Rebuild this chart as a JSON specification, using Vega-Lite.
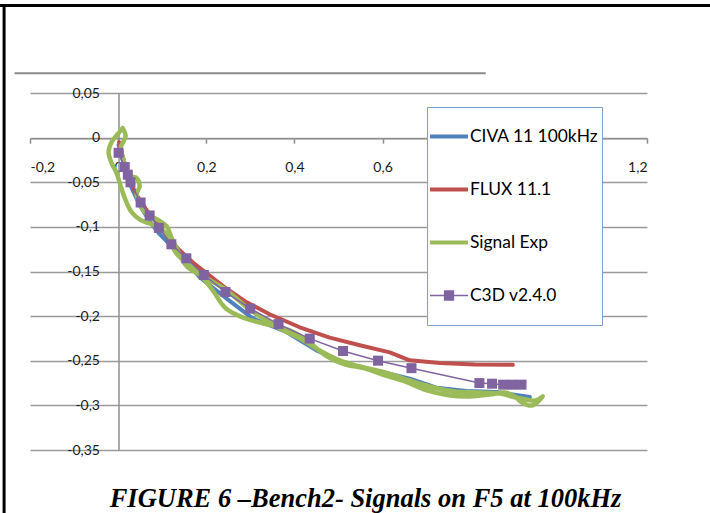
{
  "$schema": "https://vega.github.io/schema/vega-lite/v6.json",
  "width": 617,
  "height": 357,
  "autosize": "none",
  "padding": {"left": 30, "top": 93, "right": 63, "bottom": 63},
  "background": "white",
  "config": {"view": {"stroke": null}},
  "title": {
    "text": "FIGURE 6 –Bench2-  Signals on F5 at 100kHz",
    "orient": "bottom",
    "frame": "group",
    "anchor": "middle",
    "font": "Liberation Serif",
    "fontSize": 26.5,
    "fontStyle": "italic",
    "fontWeight": "bold",
    "color": "black",
    "baseline": "alphabetic",
    "offset": -8,
    "dx": 27
  },
  "datasets": {
    "curves": [
      {"series": "CIVA 11 100kHz", "i": 1, "x": 0.001, "y": -0.0084},
      {"series": "CIVA 11 100kHz", "i": 2, "x": 0.0102, "y": -0.0252},
      {"series": "CIVA 11 100kHz", "i": 3, "x": 0.0216, "y": -0.0454},
      {"series": "CIVA 11 100kHz", "i": 4, "x": 0.0329, "y": -0.0589},
      {"series": "CIVA 11 100kHz", "i": 5, "x": 0.0488, "y": -0.0757},
      {"series": "CIVA 11 100kHz", "i": 6, "x": 0.0715, "y": -0.0937},
      {"series": "CIVA 11 100kHz", "i": 7, "x": 0.0942, "y": -0.1082},
      {"series": "CIVA 11 100kHz", "i": 8, "x": 0.1169, "y": -0.1195},
      {"series": "CIVA 11 100kHz", "i": 9, "x": 0.1442, "y": -0.1329},
      {"series": "CIVA 11 100kHz", "i": 10, "x": 0.185, "y": -0.1565},
      {"series": "CIVA 11 100kHz", "i": 11, "x": 0.2463, "y": -0.1804},
      {"series": "CIVA 11 100kHz", "i": 12, "x": 0.306, "y": -0.2028},
      {"series": "CIVA 11 100kHz", "i": 13, "x": 0.3818, "y": -0.2178},
      {"series": "CIVA 11 100kHz", "i": 14, "x": 0.4499, "y": -0.2384},
      {"series": "CIVA 11 100kHz", "i": 15, "x": 0.518, "y": -0.2533},
      {"series": "CIVA 11 100kHz", "i": 16, "x": 0.6011, "y": -0.2627},
      {"series": "CIVA 11 100kHz", "i": 17, "x": 0.6617, "y": -0.2701},
      {"series": "CIVA 11 100kHz", "i": 18, "x": 0.7223, "y": -0.2802},
      {"series": "CIVA 11 100kHz", "i": 19, "x": 0.7905, "y": -0.284},
      {"series": "CIVA 11 100kHz", "i": 20, "x": 0.8585, "y": -0.2851},
      {"series": "CIVA 11 100kHz", "i": 21, "x": 0.9342, "y": -0.2907},

      {"series": "FLUX 11.1", "i": 1, "x": 0.002, "y": -0.005},
      {"series": "FLUX 11.1", "i": 2, "x": 0.0125, "y": -0.025},
      {"series": "FLUX 11.1", "i": 3, "x": 0.028, "y": -0.05},
      {"series": "FLUX 11.1", "i": 4, "x": 0.042, "y": -0.0645},
      {"series": "FLUX 11.1", "i": 5, "x": 0.0647, "y": -0.0813},
      {"series": "FLUX 11.1", "i": 6, "x": 0.0874, "y": -0.0948},
      {"series": "FLUX 11.1", "i": 7, "x": 0.1124, "y": -0.1116},
      {"series": "FLUX 11.1", "i": 8, "x": 0.1396, "y": -0.1262},
      {"series": "FLUX 11.1", "i": 9, "x": 0.169, "y": -0.1397},
      {"series": "FLUX 11.1", "i": 10, "x": 0.2009, "y": -0.152},
      {"series": "FLUX 11.1", "i": 11, "x": 0.2418, "y": -0.1677},
      {"series": "FLUX 11.1", "i": 12, "x": 0.2917, "y": -0.1845},
      {"series": "FLUX 11.1", "i": 13, "x": 0.3439, "y": -0.1979},
      {"series": "FLUX 11.1", "i": 14, "x": 0.412, "y": -0.2125},
      {"series": "FLUX 11.1", "i": 15, "x": 0.4801, "y": -0.2241},
      {"series": "FLUX 11.1", "i": 16, "x": 0.5482, "y": -0.2327},
      {"series": "FLUX 11.1", "i": 17, "x": 0.6163, "y": -0.2406},
      {"series": "FLUX 11.1", "i": 18, "x": 0.6617, "y": -0.2495},
      {"series": "FLUX 11.1", "i": 19, "x": 0.7299, "y": -0.2526},
      {"series": "FLUX 11.1", "i": 20, "x": 0.8093, "y": -0.2541},
      {"series": "FLUX 11.1", "i": 21, "x": 0.8956, "y": -0.2546},

      {"series": "Signal Exp", "i": 1, "x": 0.0102, "y": 0.0107},
      {"series": "Signal Exp", "i": 2, "x": -0.0011, "y": 0.0039},
      {"series": "Signal Exp", "i": 3, "x": -0.0148, "y": -0.005},
      {"series": "Signal Exp", "i": 4, "x": -0.0216, "y": -0.0163},
      {"series": "Signal Exp", "i": 5, "x": -0.0148, "y": -0.0286},
      {"series": "Signal Exp", "i": 6, "x": -0.0034, "y": -0.0398},
      {"series": "Signal Exp", "i": 7, "x": 0.0057, "y": -0.0544},
      {"series": "Signal Exp", "i": 8, "x": 0.017, "y": -0.0701},
      {"series": "Signal Exp", "i": 9, "x": 0.0306, "y": -0.0836},
      {"series": "Signal Exp", "i": 10, "x": 0.0511, "y": -0.0925},
      {"series": "Signal Exp", "i": 11, "x": 0.0761, "y": -0.097},
      {"series": "Signal Exp", "i": 12, "x": 0.1011, "y": -0.1038},
      {"series": "Signal Exp", "i": 13, "x": 0.1169, "y": -0.115},
      {"series": "Signal Exp", "i": 14, "x": 0.1305, "y": -0.1285},
      {"series": "Signal Exp", "i": 15, "x": 0.1532, "y": -0.1397},
      {"series": "Signal Exp", "i": 16, "x": 0.185, "y": -0.153},
      {"series": "Signal Exp", "i": 17, "x": 0.2145, "y": -0.171},
      {"series": "Signal Exp", "i": 18, "x": 0.244, "y": -0.1912},
      {"series": "Signal Exp", "i": 19, "x": 0.2872, "y": -0.2024},
      {"series": "Signal Exp", "i": 20, "x": 0.328, "y": -0.208},
      {"series": "Signal Exp", "i": 21, "x": 0.3893, "y": -0.2159},
      {"series": "Signal Exp", "i": 22, "x": 0.4279, "y": -0.2271},
      {"series": "Signal Exp", "i": 23, "x": 0.4733, "y": -0.2451},
      {"series": "Signal Exp", "i": 24, "x": 0.5142, "y": -0.2541},
      {"series": "Signal Exp", "i": 25, "x": 0.5596, "y": -0.2586},
      {"series": "Signal Exp", "i": 26, "x": 0.605, "y": -0.2664},
      {"series": "Signal Exp", "i": 27, "x": 0.6504, "y": -0.2732},
      {"series": "Signal Exp", "i": 28, "x": 0.7003, "y": -0.2833},
      {"series": "Signal Exp", "i": 29, "x": 0.7526, "y": -0.2889},
      {"series": "Signal Exp", "i": 30, "x": 0.798, "y": -0.29},
      {"series": "Signal Exp", "i": 31, "x": 0.8434, "y": -0.2878},
      {"series": "Signal Exp", "i": 32, "x": 0.8774, "y": -0.2856},
      {"series": "Signal Exp", "i": 33, "x": 0.9001, "y": -0.29},
      {"series": "Signal Exp", "i": 34, "x": 0.916, "y": -0.2967},
      {"series": "Signal Exp", "i": 35, "x": 0.9387, "y": -0.3001},
      {"series": "Signal Exp", "i": 36, "x": 0.9637, "y": -0.29},
      {"series": "Signal Exp", "i": 37, "x": 0.9478, "y": -0.2945},
      {"series": "Signal Exp", "i": 38, "x": 0.9251, "y": -0.2934},
      {"series": "Signal Exp", "i": 39, "x": 0.9024, "y": -0.2911},
      {"series": "Signal Exp", "i": 40, "x": 0.866, "y": -0.2867},
      {"series": "Signal Exp", "i": 41, "x": 0.8207, "y": -0.2855},
      {"series": "Signal Exp", "i": 42, "x": 0.7639, "y": -0.2844},
      {"series": "Signal Exp", "i": 43, "x": 0.7072, "y": -0.2788},
      {"series": "Signal Exp", "i": 44, "x": 0.6617, "y": -0.2721},
      {"series": "Signal Exp", "i": 45, "x": 0.605, "y": -0.2631},
      {"series": "Signal Exp", "i": 46, "x": 0.5482, "y": -0.2564},
      {"series": "Signal Exp", "i": 47, "x": 0.5028, "y": -0.2496},
      {"series": "Signal Exp", "i": 48, "x": 0.4574, "y": -0.2384},
      {"series": "Signal Exp", "i": 49, "x": 0.412, "y": -0.2249},
      {"series": "Signal Exp", "i": 50, "x": 0.3666, "y": -0.2137},
      {"series": "Signal Exp", "i": 51, "x": 0.328, "y": -0.2024},
      {"series": "Signal Exp", "i": 52, "x": 0.2917, "y": -0.1901},
      {"series": "Signal Exp", "i": 53, "x": 0.2463, "y": -0.171},
      {"series": "Signal Exp", "i": 54, "x": 0.2009, "y": -0.1576},
      {"series": "Signal Exp", "i": 55, "x": 0.1555, "y": -0.1441},
      {"series": "Signal Exp", "i": 56, "x": 0.1351, "y": -0.1262},
      {"series": "Signal Exp", "i": 57, "x": 0.1215, "y": -0.1127},
      {"series": "Signal Exp", "i": 58, "x": 0.1101, "y": -0.0993},
      {"series": "Signal Exp", "i": 59, "x": 0.0874, "y": -0.0914},
      {"series": "Signal Exp", "i": 60, "x": 0.0647, "y": -0.0858},
      {"series": "Signal Exp", "i": 61, "x": 0.0511, "y": -0.0768},
      {"series": "Signal Exp", "i": 62, "x": 0.042, "y": -0.0634},
      {"series": "Signal Exp", "i": 63, "x": 0.0488, "y": -0.0544},
      {"series": "Signal Exp", "i": 64, "x": 0.042, "y": -0.0454},
      {"series": "Signal Exp", "i": 65, "x": 0.0261, "y": -0.0432},
      {"series": "Signal Exp", "i": 66, "x": 0.017, "y": -0.0365},
      {"series": "Signal Exp", "i": 67, "x": 0.0125, "y": -0.0252},
      {"series": "Signal Exp", "i": 68, "x": 0.0057, "y": -0.0118},
      {"series": "Signal Exp", "i": 69, "x": 0.017, "y": 0.0017},
      {"series": "Signal Exp", "i": 70, "x": 0.0102, "y": 0.0107},

      {"series": "C3D v2.4.0", "i": 1, "x": 0.001, "y": -0.017},
      {"series": "C3D v2.4.0", "i": 2, "x": 0.015, "y": -0.033},
      {"series": "C3D v2.4.0", "i": 3, "x": 0.022, "y": -0.0415},
      {"series": "C3D v2.4.0", "i": 4, "x": 0.028, "y": -0.05},
      {"series": "C3D v2.4.0", "i": 5, "x": 0.051, "y": -0.0727},
      {"series": "C3D v2.4.0", "i": 6, "x": 0.0715, "y": -0.0872},
      {"series": "C3D v2.4.0", "i": 7, "x": 0.0924, "y": -0.1012},
      {"series": "C3D v2.4.0", "i": 8, "x": 0.1208, "y": -0.1195},
      {"series": "C3D v2.4.0", "i": 9, "x": 0.1548, "y": -0.1352},
      {"series": "C3D v2.4.0", "i": 10, "x": 0.1945, "y": -0.1539},
      {"series": "C3D v2.4.0", "i": 11, "x": 0.2434, "y": -0.173},
      {"series": "C3D v2.4.0", "i": 12, "x": 0.2997, "y": -0.1916},
      {"series": "C3D v2.4.0", "i": 13, "x": 0.3639, "y": -0.2089},
      {"series": "C3D v2.4.0", "i": 14, "x": 0.4347, "y": -0.2252},
      {"series": "C3D v2.4.0", "i": 15, "x": 0.5103, "y": -0.2391},
      {"series": "C3D v2.4.0", "i": 16, "x": 0.5898, "y": -0.2499},
      {"series": "C3D v2.4.0", "i": 17, "x": 0.6656, "y": -0.2583},
      {"series": "C3D v2.4.0", "i": 18, "x": 0.8197, "y": -0.275},
      {"series": "C3D v2.4.0", "i": 19, "x": 0.8484, "y": -0.2757},
      {"series": "C3D v2.4.0", "i": 20, "x": 0.8736, "y": -0.2768},
      {"series": "C3D v2.4.0", "i": 21, "x": 0.8944, "y": -0.2768},
      {"series": "C3D v2.4.0", "i": 22, "x": 0.9153, "y": -0.2768}
    ],
    "frame": [
      {"x": -0.2588, "x2": -0.2588, "y": 0.1481, "y2": -0.4212},
      {"x": -0.28, "x2": 1.36, "y": 0.1481, "y2": 0.1481}
    ],
    "topline": [
      {"x": -0.235, "x2": 0.834, "y": 0.072, "y2": 0.072}
    ]
  },
  "layer": [
    {
      "data": {"name": "frame"},
      "mark": {"type": "rule", "clip": false, "color": "black", "strokeWidth": 3},
      "encoding": {
        "x": {"field": "x", "type": "quantitative", "scale": {"domain": [-0.2, 1.2], "nice": false, "zero": false}},
        "x2": {"field": "x2"},
        "y": {"field": "y", "type": "quantitative", "scale": {"domain": [-0.35, 0.05], "nice": false, "zero": false}},
        "y2": {"field": "y2"}
      }
    },
    {
      "data": {"name": "topline"},
      "mark": {"type": "rule", "clip": false, "color": "#8a8a8a", "strokeWidth": 2},
      "encoding": {
        "x": {"field": "x", "type": "quantitative"},
        "x2": {"field": "x2"},
        "y": {"field": "y", "type": "quantitative"},
        "y2": {"field": "y2"}
      }
    },
    {
      "data": {"name": "curves"},
      "transform": [{"filter": "datum.series == 'CIVA 11 100kHz'"}],
      "mark": {"type": "line", "strokeWidth": 4, "strokeCap": "round", "strokeJoin": "round"},
      "encoding": {
        "x": {"field": "x", "type": "quantitative", "axis": {"values": [-0.2, 0, 0.2, 0.4, 0.6, 0.8, 1, 1.2], "orient": "bottom", "offset": -311.8, "grid": false, "title": null, "domainColor": "#8f8f8f", "domainWidth": 1.5, "tickColor": "#8f8f8f", "tickWidth": 1.5, "tickSize": 5, "labelPadding": 17, "labelFont": "Lato", "labelFontSize": 14, "labelColor": "#1a1a1a", "labelExpr": "replace(replace(format(datum.value, '~g'), '.', ','), '−', '-')", "zindex": 0}},
        "y": {"field": "y", "type": "quantitative", "axis": {"values": [-0.35, -0.3, -0.25, -0.2, -0.15, -0.1, -0.05, 0, 0.05], "orient": "left", "offset": -88.5, "grid": true, "gridColor": "#9a9a9a", "gridWidth": 1.5, "title": null, "ticks": false, "domainColor": "#8f8f8f", "domainWidth": 1.5, "labelPadding": 19, "labelFont": "Lato", "labelFontSize": 14, "labelColor": "#1a1a1a", "labelExpr": "replace(replace(format(datum.value, '~g'), '.', ','), '−', '-')", "zindex": 0}},
        "order": {"field": "i", "type": "quantitative"},
        "color": {"field": "series", "type": "nominal", "scale": {"domain": ["CIVA 11 100kHz", "FLUX 11.1", "Signal Exp", "C3D v2.4.0"], "range": ["#4F81BD", "#C0504D", "#9BBB59", "#8064A2"]},
          "legend": {"title": null, "orient": "none", "legendX": 397, "legendY": 14, "fillColor": "white", "strokeColor": "#7fa0d0", "padding": 3, "clipHeight": 53, "rowPadding": 0, "symbolSize": 1444, "symbolStrokeWidth": 0, "labelOffset": 2, "labelFont": "Lato", "labelFontSize": 17.4, "labelColor": "black", "labelLimit": 300}}
      }
    },
    {
      "data": {"name": "curves"},
      "transform": [{"filter": "datum.series == 'FLUX 11.1'"}],
      "mark": {"type": "line", "strokeWidth": 4, "strokeCap": "round", "strokeJoin": "round"},
      "encoding": {
        "x": {"field": "x", "type": "quantitative"},
        "y": {"field": "y", "type": "quantitative"},
        "order": {"field": "i", "type": "quantitative"},
        "color": {"field": "series", "type": "nominal"}
      }
    },
    {
      "data": {"name": "curves"},
      "transform": [{"filter": "datum.series == 'Signal Exp'"}],
      "mark": {"type": "line", "strokeWidth": 4.5, "strokeCap": "round", "strokeJoin": "round", "interpolate": "catmull-rom"},
      "encoding": {
        "x": {"field": "x", "type": "quantitative"},
        "y": {"field": "y", "type": "quantitative"},
        "order": {"field": "i", "type": "quantitative"},
        "color": {"field": "series", "type": "nominal"}
      }
    },
    {
      "data": {"name": "curves"},
      "transform": [{"filter": "datum.series == 'C3D v2.4.0'"}],
      "mark": {"type": "line", "strokeWidth": 1.5},
      "encoding": {
        "x": {"field": "x", "type": "quantitative"},
        "y": {"field": "y", "type": "quantitative"},
        "order": {"field": "i", "type": "quantitative"},
        "color": {"field": "series", "type": "nominal"}
      }
    },
    {
      "data": {"name": "curves"},
      "transform": [{"filter": "datum.series == 'C3D v2.4.0'"}],
      "mark": {"type": "point", "filled": true, "shape": "square", "size": 100, "opacity": 1},
      "encoding": {
        "x": {"field": "x", "type": "quantitative"},
        "y": {"field": "y", "type": "quantitative"},
        "color": {"field": "series", "type": "nominal"}
      }
    },
    {
      "data": {"name": "curves"},
      "transform": [{"filter": "datum.series == 'none'"}],
      "mark": {"type": "point", "filled": true, "opacity": 1},
      "encoding": {
        "x": {"field": "x", "type": "quantitative"},
        "y": {"field": "y", "type": "quantitative"},
        "color": {"field": "series", "type": "nominal"},
        "shape": {"field": "series", "type": "nominal", "scale": {"domain": ["CIVA 11 100kHz", "FLUX 11.1", "Signal Exp", "C3D v2.4.0"], "range": ["M-1,-0.1L1,-0.1L1,0.1L-1,0.1Z", "M-1,-0.1L1,-0.1L1,0.1L-1,0.1Z", "M-1,-0.11L1,-0.11L1,0.11L-1,0.11Z", "M-1,-0.04L1,-0.04L1,0.04L-1,0.04Z M-0.27,-0.27L0.27,-0.27L0.27,0.27L-0.27,0.27Z"]}}
      }
    }
  ]
}
